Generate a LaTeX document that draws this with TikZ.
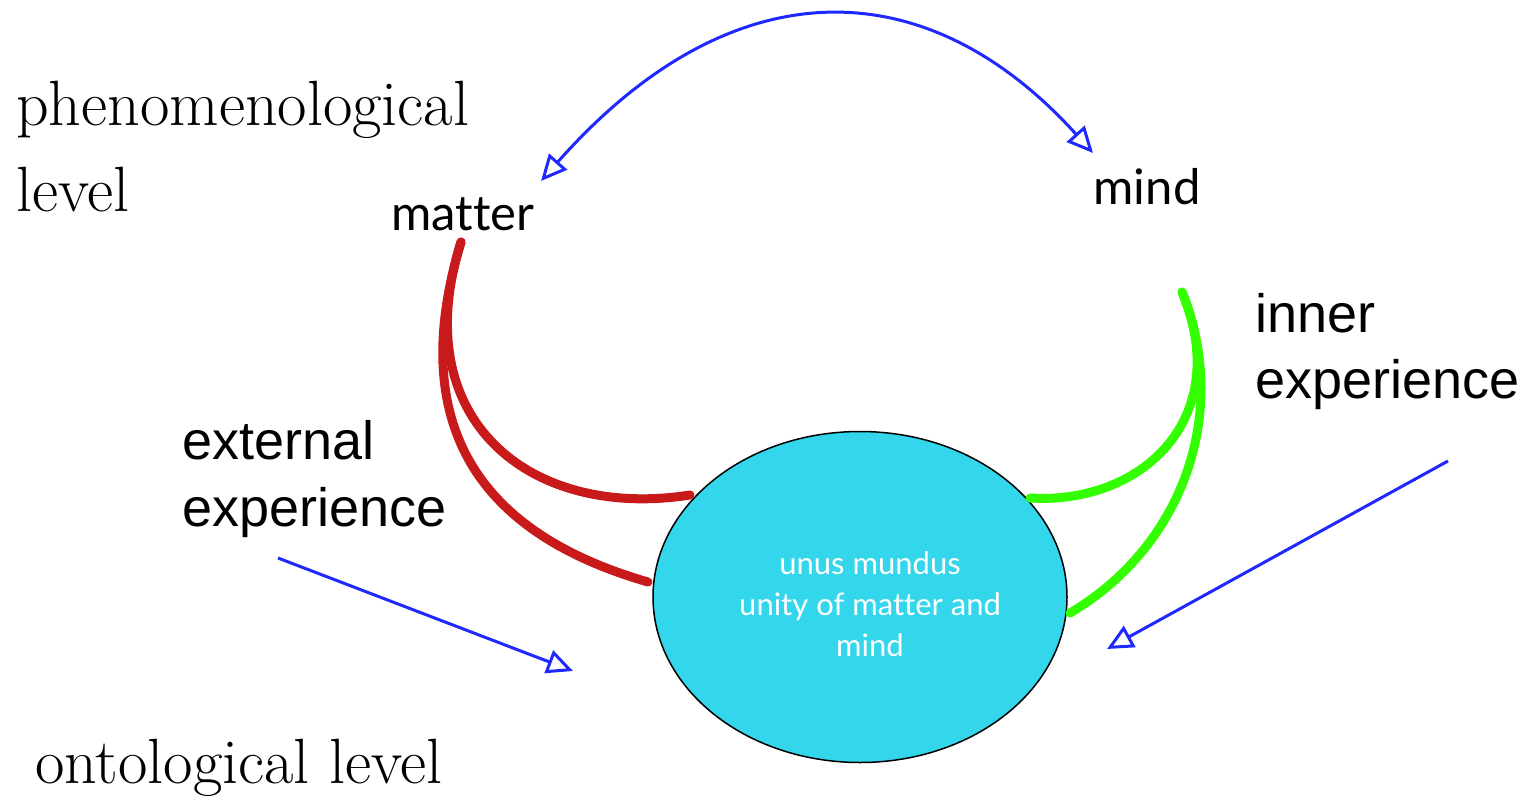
\documentclass[tikz,border=0pt]{standalone}
\usepackage{fontspec}
\setmainfont{Latin Modern Roman}
\newfontfamily\gill[Ligatures={NoCommon}]{Lato}
\newfontfamily\arialf{Liberation Sans}
\usetikzlibrary{arrows.meta,shapes.geometric}
\definecolor{cyanfill}{RGB}{51,214,234}
\definecolor{redline}{RGB}{200,26,26}
\definecolor{greenline}{RGB}{51,255,0}
\definecolor{blueline}{RGB}{30,40,255}
\tikzset{
  serifl/.style={font=\fontsize{64}{80}\selectfont, anchor=west, inner sep=0pt},
  sansl/.style={font=\arialf\fontsize{54}{72}\selectfont, anchor=west, inner sep=0pt, align=left},
  gilll/.style={font=\gill\fontsize{49}{56}\selectfont, inner sep=0pt},
  redc/.style={draw=redline, line width=9pt, line cap=round},
  greenc/.style={draw=greenline, line width=9pt, line cap=round},
  bluea/.style={draw=blueline, line width=3pt, -{Triangle[open, length=26pt, width=24pt, line width=3pt]}},
  blueab/.style={draw=blueline, line width=3pt, {Triangle[open, length=26pt, width=24pt, line width=3pt]}-{Triangle[open, length=26pt, width=24pt, line width=3pt]}},
}
\begin{document}
\begin{tikzpicture}[x=1pt,y=-1pt]
\useasboundingbox (0,0) rectangle (1526,803);

% texts
\node[serifl] (phen) at (16,110) {phenomenological};
\node[serifl] (lev) at (16,190) {level};
\node[serifl] (onto) at (35,768) {ontological level};
\node[sansl] (ext1) at (182,440) {external};
\node[sansl] (ext2) at (182,513) {experience};
\node[sansl] (inn1) at (1255,313) {inner};
\node[sansl] (inn2) at (1255,385) {experience};
\node[gilll] (matter) at (463,214) {matter};
\node[gilll] (mind) at (1147,187) {mind};

% ellipse
\node[ellipse, draw=black, line width=1.5pt, fill=cyanfill, minimum width=414pt, minimum height=331pt, inner sep=0pt] (unus) at (860,597) {};
\node[font=\gill\fontsize{31}{41}\selectfont, text=white, align=center, inner sep=0pt] (unustext) at (870,604) {unus mundus\\unity of matter and\\mind};

% endpoints
\coordinate (rs) at (461,242);
\coordinate (re1) at (690,495);
\coordinate (re2) at (648,582);
\coordinate (gs) at (1182,292);
\coordinate (ge1) at (1030,498);
\coordinate (ge2) at (1070,613);

% red curves
\draw[redc] (rs) .. controls (405,420) and (530,520) .. (re1);
\draw[redc] (rs) .. controls (395,460) and (520,545) .. (re2);
% green curves
\draw[greenc] (gs) .. controls (1235,420) and (1140,505) .. (ge1);
\draw[greenc] (gs) .. controls (1230,410) and (1185,545) .. (ge2);

% blue arrows
\coordinate (al) at (541,181);
\coordinate (ar) at (1093,153);
\draw[blueab] (al) .. controls (730,-33) and (925,-33) .. (ar);
\coordinate (ex0) at (278,558);
\coordinate (ex1) at (573,671);
\draw[bluea] (ex0) -- (ex1);
\coordinate (in0) at (1448,461);
\coordinate (in1) at (1107,649);
\draw[bluea] (in0) -- (in1);
\end{tikzpicture}
\end{document}
